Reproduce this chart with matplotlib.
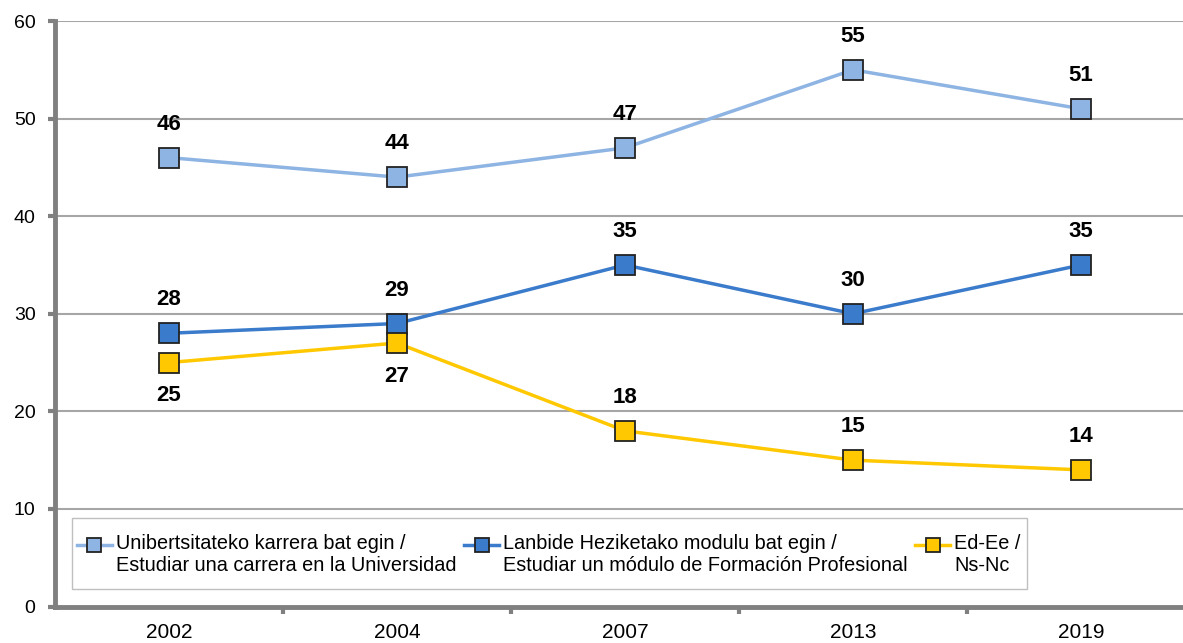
import matplotlib.pyplot as plt
from matplotlib.legend_handler import HandlerLine2D
from matplotlib.lines import Line2D
from matplotlib.patches import Rectangle

plt.rcParams["font.family"] = ["Liberation Sans", "DejaVu Sans"]

# chart data
years = ["2002", "2004", "2007", "2013", "2019"]
university = [46, 44, 47, 55, 51]
vocational = [28, 29, 35, 30, 35]
dont_know = [25, 27, 18, 15, 14]

series_names = [
    "Unibertsitateko karrera bat egin /\nEstudiar una carrera en la Universidad",
    "Lanbide Heziketako modulu bat egin /\nEstudiar un módulo de Formación Profesional",
    "Ed-Ee /\nNs-Nc",
]
series_colors = ["#8DB4E2", "#3A7BCB", "#FFC800"]
# label goes above (+1) or below (-1) the point
dont_know_side = [-1, -1, 1, 1, 1]


# legend handles sit level with the first text line, not in the middle
class RaisedHandler(HandlerLine2D):
    def create_artists(self, legend, orig_handle, xdescent, ydescent, width, height, fontsize, trans):
        return super().create_artists(legend, orig_handle, xdescent, ydescent - 15,
                                      width, height, fontsize, trans)


fig = plt.figure(figsize=(11.83, 6.43), dpi=100)
ax = fig.add_axes([55 / 1183, 36.5 / 643, 1140 / 1183, 585.5 / 643])

x = list(range(len(years)))
all_series = [university, vocational, dont_know]
for values, name, color in zip(all_series, series_names, series_colors):
    ax.plot(x, values, color=color, linewidth=2.5, marker="s", markersize=14.5,
            markerfacecolor=color, markeredgecolor="#222222", markeredgewidth=1.3,
            label=name, zorder=3)

# value labels
for i, v in enumerate(university):
    ax.annotate(str(v), (i, v), xytext=(0, 24), textcoords="offset points",
                ha="center", va="center", fontsize=16, fontweight="bold")
for i, v in enumerate(vocational):
    ax.annotate(str(v), (i, v), xytext=(0, 24), textcoords="offset points",
                ha="center", va="center", fontsize=16, fontweight="bold")
for i, v in enumerate(dont_know):
    ax.annotate(str(v), (i, v), xytext=(0, 24 * dont_know_side[i]), textcoords="offset points",
                ha="center", va="center", fontsize=16, fontweight="bold")

ax.set_xlim(-0.5, len(years) - 0.5)
ax.set_ylim(0, 60)
ax.set_yticks(range(0, 61, 10))
ax.set_xticks(x)
ax.set_xticklabels(years)
ax.set_xticks([i + 0.5 for i in x[:-1]], minor=True)

ax.grid(axis="y", color="#A6A6A6", linewidth=1.5)
ax.set_axisbelow(True)
for side in ["top", "right"]:
    ax.spines[side].set_visible(False)
for side in ["left", "bottom"]:
    ax.spines[side].set_color("#808080")
    ax.spines[side].set_linewidth(3.5)

ax.tick_params(axis="y", length=5, width=3, color="#808080", labelsize=14, pad=9)
ax.tick_params(axis="x", which="major", length=0, labelsize=15, pad=12)
ax.tick_params(axis="x", which="minor", length=5, width=3, color="#808080")

# legend box drawn by hand so the padding matches
ax.add_patch(Rectangle((17 / 1140, 17.5 / 585), 955 / 1140, 71 / 585, transform=ax.transAxes,
                       facecolor="white", edgecolor="#BFBFBF", linewidth=1, zorder=4))
legend = ax.legend(loc="center left", bbox_to_anchor=(22 / 1140, 52 / 585), ncol=3,
                   fontsize=14.3, frameon=False, handlelength=1.75,
                   handletextpad=0.2, columnspacing=0.4, markerscale=0.7,
                   borderpad=0, borderaxespad=0, handler_map={Line2D: RaisedHandler()})
legend.set_zorder(5)
for text in legend.get_texts():
    text.set_linespacing(1.15)

fig.savefig("out.png", dpi=100)
